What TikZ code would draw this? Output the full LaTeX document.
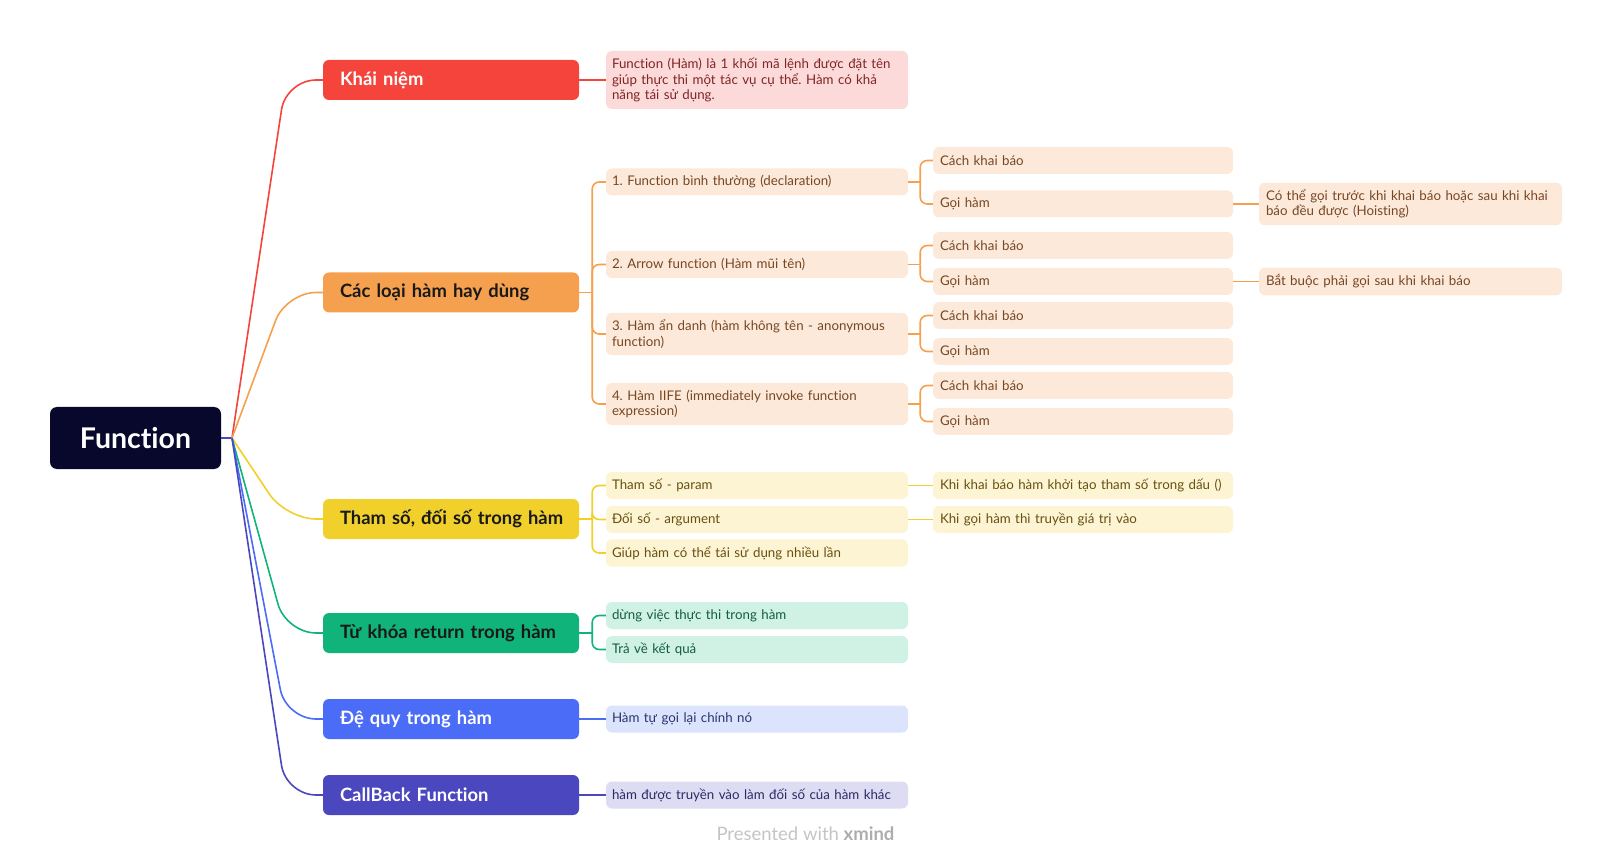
\documentclass[tikz,border=0pt]{standalone}
\usepackage{fontspec}
\setmainfont{Lato}[Ligatures=NoCommon]
\frenchspacing
\definecolor{rootbg}{HTML}{07082B}
\definecolor{cred}{HTML}{F5443B}
\definecolor{corange}{HTML}{F4A04E}
\definecolor{cyellow}{HTML}{F1D02C}
\definecolor{cgreen}{HTML}{10B47A}
\definecolor{cblue}{HTML}{4A6CF7}
\definecolor{cindigo}{HTML}{4B47BE}
\definecolor{redl}{HTML}{FDDADA}
\definecolor{redt}{HTML}{7E2525}
\definecolor{orl}{HTML}{FCE9DA}
\definecolor{ort}{HTML}{774723}
\definecolor{yel}{HTML}{FDF4D3}
\definecolor{yet}{HTML}{66510F}
\definecolor{grl}{HTML}{CFF2E4}
\definecolor{grt}{HTML}{145C43}
\definecolor{bll}{HTML}{DCE3FD}
\definecolor{blt}{HTML}{28356E}
\definecolor{inl}{HTML}{DDDCF2}
\definecolor{int}{HTML}{2C2A66}
\definecolor{footc}{HTML}{C4C4C4}
\tikzset{
  root/.style={fill=rootbg, text=white, rounded corners=7pt, minimum width=171pt,
    minimum height=62pt, inner sep=0pt, font=\fontsize{28.5}{31}\selectfont\bfseries},
  topic/.style={rounded corners=6pt, text width=236pt, inner xsep=10pt, inner ysep=0pt,
    minimum height=40pt, align=left, text=black!90, font=\fontsize{18.4}{21}\selectfont\bfseries},
  sub/.style={rounded corners=6pt, text width=290pt, inner xsep=6pt, inner ysep=7pt,
    minimum height=27pt, align=left, font=\fontsize{13.3}{15.5}\selectfont},
  leaf/.style={sub, text width=286pt, inner xsep=7pt},
  osub/.style={sub, fill=orl, text=ort},
  oleaf/.style={leaf, fill=orl, text=ort},
  ysub/.style={sub, fill=yel, text=yet},
  gsub/.style={sub, fill=grl, text=grt},
  link/.style={line width=1.6pt},
}
\newcommand{\pad}{\hspace*{7pt}}
\begin{document}
\begin{tikzpicture}[x=1pt,y=-1pt]
  \useasboundingbox (0,0) rectangle (1612,866);
  % gốc
  \node[root] (root) at (135.5,438) {Function};
  % nhánh chính
  \node[topic, fill=cred, text=white] (kn) at (451,80) {\pad Khái niệm};
  \node[topic, fill=corange] (loai) at (451,292.5) {\pad Các loại hàm hay dùng};
  \node[topic, fill=cyellow] (ts) at (451,519) {\pad Tham số, đối số trong hàm};
  \node[topic, fill=cgreen] (rt) at (451,633) {\pad Từ khóa return trong hàm};
  \node[topic, fill=cblue, text=white] (dq) at (451,719) {\pad Đệ quy trong hàm};
  \node[topic, fill=cindigo, text=white] (cb) at (451,795) {\pad CallBack Function};
  % khái niệm
  \node[sub, fill=redl, text=redt] (knd) at (757,80)
    {Function (Hàm) là 1 khối mã lệnh được đặt tên\\giúp thực thi một tác vụ cụ thể. Hàm có khả\\năng tái sử dụng.};
  % các loại hàm
  \node[osub] (f1) at (757,182) {1. Function bình thường (declaration)};
  \node[osub] (f2) at (757,264.5) {2. Arrow function (Hàm mũi tên)};
  \node[osub] (f3) at (757,334) {3. Hàm ẩn danh (hàm không tên - anonymous\\function)};
  \node[osub] (f4) at (757,404) {4. Hàm IIFE (immediately invoke function\\expression)};
  \node[oleaf] (c1) at (1083,160.5) {Cách khai báo};
  \node[oleaf] (g1) at (1083,204) {Gọi hàm};
  \node[oleaf] (c2) at (1083,245.5) {Cách khai báo};
  \node[oleaf] (g2) at (1083,281.5) {Gọi hàm};
  \node[oleaf] (c3) at (1083,315.5) {Cách khai báo};
  \node[oleaf] (g3) at (1083,351.5) {Gọi hàm};
  \node[oleaf] (c4) at (1083,385.5) {Cách khai báo};
  \node[oleaf] (g4) at (1083,421.5) {Gọi hàm};
  \node[oleaf, text width=289pt] (h1) at (1410.5,204)
    {Có thể gọi trước khi khai báo hoặc sau khi khai\\báo đều được (Hoisting)};
  \node[oleaf, text width=289pt] (h2) at (1410.5,281.5) {Bắt buộc phải gọi sau khi khai báo};
  % tham số
  \node[ysub] (ts1) at (757,485.5) {Tham số - param};
  \node[ysub] (ts2) at (757,519.5) {Đối số - argument};
  \node[ysub] (ts3) at (757,553) {Giúp hàm có thể tái sử dụng nhiều lần};
  \node[ysub, text width=286pt, inner xsep=7pt] (k1) at (1083,485.5) {Khi khai báo hàm khởi tạo tham số trong dấu ()};
  \node[ysub, text width=286pt, inner xsep=7pt] (k2) at (1083,519.5) {Khi gọi hàm thì truyền giá trị vào};
  % return
  \node[gsub] (rt1) at (757,615.5) {dừng việc thực thi trong hàm};
  \node[gsub] (rt2) at (757,649.5) {Trả về kết quả};
  % đệ quy, callback
  \node[sub, fill=bll, text=blt] (dq1) at (757,719) {Hàm tự gọi lại chính nó};
  \node[sub, fill=inl, text=int] (cb1) at (757,795) {hàm được truyền vào làm đối số của hàm khác};
  \node[text=footc, font=\fontsize{18.5}{21}\selectfont] (brand) at (805.5,834)
    {Presented with {\color{black!32}\bfseries xmind}};

  % đường nối từ gốc
  \coordinate (fan) at (232,438);
  \coordinate (bend) at (286,0);
  \draw[link, cindigo] (root.east) -- (fan);
  \foreach \t/\c in {kn/cred, loai/corange, ts/cyellow, rt/cgreen, dq/cblue, cb/cindigo}
    \draw[link, \c, rounded corners=30pt] (fan) -- (bend |- \t.west) -- (\t.west);
  % nhánh con
  \draw[link, cred] (kn.east) -- (knd.west);
  \draw[link, corange] (loai.east) -- ++(13,0) coordinate (jl);
  \foreach \s in {f1,f2,f3,f4}
    \draw[link, corange, rounded corners=7pt] (jl) |- (\s.west);
  \foreach \f/\a/\b in {f1/c1/g1, f2/c2/g2, f3/c3/g3, f4/c4/g4} {
    \draw[link, corange] (\f.east) -- ++(12,0) coordinate (j);
    \draw[link, corange, rounded corners=7pt] (j) |- (\a.west);
    \draw[link, corange, rounded corners=7pt] (j) |- (\b.west);
  }
  \draw[link, corange] (g1.east) -- (h1.west);
  \draw[link, corange] (g2.east) -- (h2.west);
  \draw[link, cyellow] (ts.east) -- ++(13,0) coordinate (jt);
  \foreach \s in {ts1,ts2,ts3}
    \draw[link, cyellow, rounded corners=7pt] (jt) |- (\s.west);
  \draw[link, cyellow] (ts1.east) -- (k1.west);
  \draw[link, cyellow] (ts2.east) -- (k2.west);
  \draw[link, cgreen] (rt.east) -- ++(13,0) coordinate (jr);
  \foreach \s in {rt1,rt2}
    \draw[link, cgreen, rounded corners=7pt] (jr) |- (\s.west);
  \draw[link, cblue] (dq.east) -- (dq1.west);
  \draw[link, cindigo] (cb.east) -- (cb1.west);
\end{tikzpicture}
\end{document}
